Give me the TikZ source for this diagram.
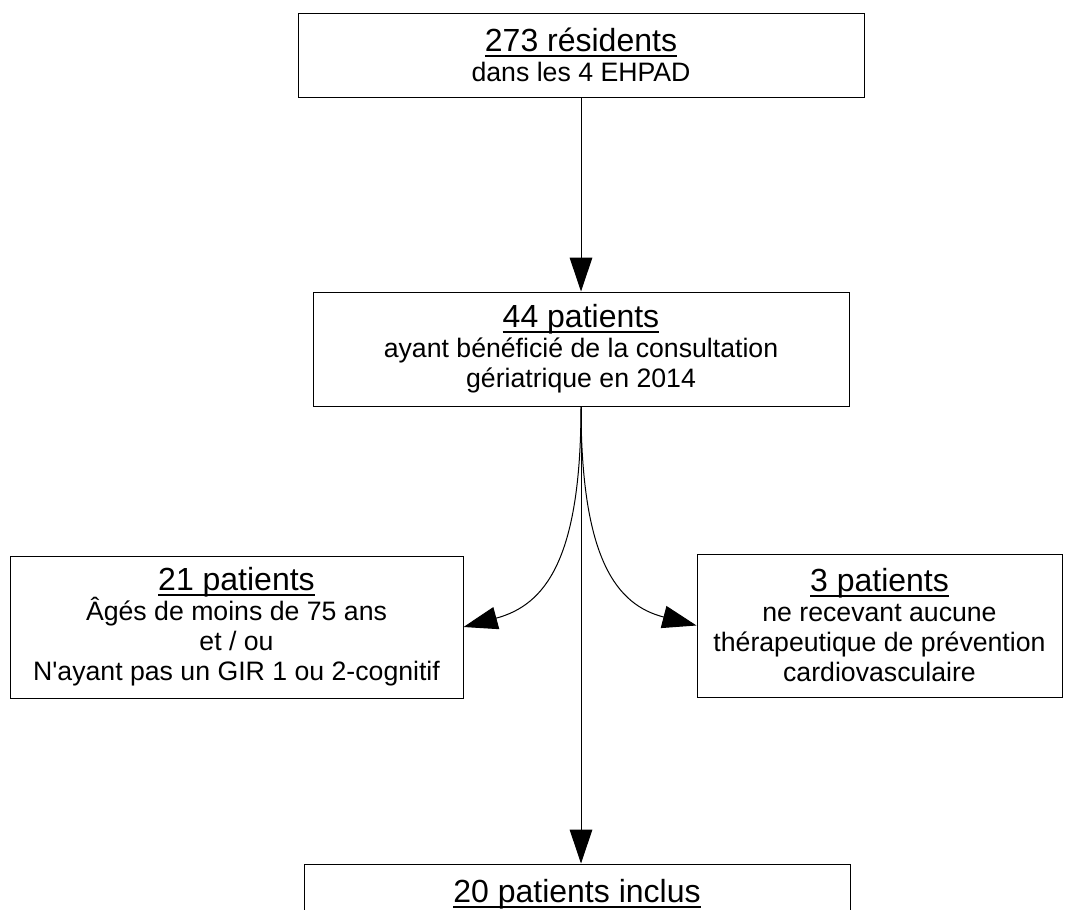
\documentclass[tikz,border=0pt]{standalone}
\usepackage{fontspec}
\newfontfamily\lsans{Liberation Sans}
\usetikzlibrary{arrows.meta}
\newcommand\ttl[1]{\setbox0\hbox{\fontsize{24}{28}\selectfont #1}\rlap{\rule[-3.8pt]{\wd0}{1.5pt}}\box0}
\tikzset{
  box/.style={draw, line width=0.75pt, align=center, inner sep=0pt,
    font=\lsans\fontsize{20}{22.5}\selectfont},
  arr/.style={line width=0.75pt, -{Triangle[length=25.5pt,width=17pt]}}
}
\begin{document}
\begin{tikzpicture}[x=0.75pt,y=-0.75pt]
\useasboundingbox (0,0) rectangle (1072,910);
\node[box, minimum width={566*0.75pt}, minimum height={84*0.75pt}] (b1) at (581,55)
  {\ttl{273 résidents}\\dans les 4 EHPAD};
\node[box, minimum width={536*0.75pt}, minimum height={114*0.75pt}] (b2) at (581,349)
  {\ttl{44 patients}\\ayant bénéficié de la consultation\\gériatrique en 2014};
\node[box, minimum width={453*0.75pt}, minimum height={142*0.75pt}] (bl) at (236.5,627)
  {\ttl{21 patients}\\Âgés de moins de 75 ans\\et / ou\\N'ayant pas un GIR 1 ou 2-cognitif};
\node[box, minimum width={365*0.75pt}, minimum height={143*0.75pt}] (br) at (879.5,625.5)
  {\ttl{3 patients}\\ne recevant aucune\\thérapeutique de prévention\\cardiovasculaire};
\node[box, minimum width={546*0.75pt}, minimum height={61.4*0.75pt}] (bb) at (577,894.7)
  {\ttl{20 patients inclus}};
\draw[arr] (b1.south) -- (b2.north);
\draw[arr] (b2.south) -- (b2.south |- bb.north);
\draw[arr] (b2.south) .. controls (581,560) and (545,605) .. (bl.east);
\draw[arr] (b2.south) .. controls (581,560) and (617,605) .. (br.west);
\end{tikzpicture}
\end{document}
